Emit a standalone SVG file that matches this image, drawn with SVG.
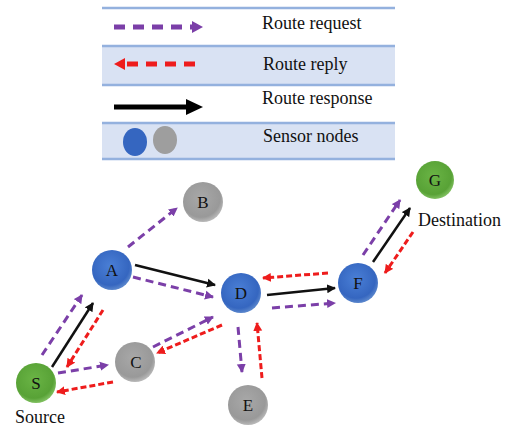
<svg xmlns="http://www.w3.org/2000/svg" width="506" height="426" viewBox="0 0 506 426">
<defs>
<radialGradient id="gBlue" cx="45%" cy="40%" r="60%"><stop offset="0" stop-color="#4a7fd6"/><stop offset="0.8" stop-color="#3566c0"/><stop offset="1" stop-color="#5a86cc"/></radialGradient>
<radialGradient id="gGray" cx="45%" cy="40%" r="60%"><stop offset="0" stop-color="#a8a8a8"/><stop offset="0.8" stop-color="#999999"/><stop offset="1" stop-color="#b8b8b8"/></radialGradient>
<radialGradient id="gGreen" cx="45%" cy="40%" r="60%"><stop offset="0" stop-color="#6ab445"/><stop offset="0.8" stop-color="#58a236"/><stop offset="1" stop-color="#80c060"/></radialGradient>
<marker id="mP" markerUnits="userSpaceOnUse" markerWidth="10" markerHeight="10" refX="8" refY="5" orient="auto"><path d="M0,0.5 L9,5 L0,9.5 Z" fill="#7b3fa8"/></marker>
<marker id="mR" markerUnits="userSpaceOnUse" markerWidth="10" markerHeight="10" refX="8" refY="5" orient="auto"><path d="M0,0.5 L9,5 L0,9.5 Z" fill="#ee1c1c"/></marker>
<marker id="mK" markerUnits="userSpaceOnUse" markerWidth="10" markerHeight="10" refX="8" refY="5" orient="auto"><path d="M0,0.5 L9,5 L0,9.5 Z" fill="#111111"/></marker>
</defs>
<style>
.t{font-family:"Liberation Serif","Times New Roman",serif;font-size:18px;fill:#111}
.nl{font-family:"Liberation Serif","Times New Roman",serif;font-size:17px;fill:#111;text-anchor:middle}
.band{fill:#d9e2f3}
.sep{stroke:#94b1de;stroke-width:2.5}
.req{stroke:#7b3fa8;stroke-width:3;stroke-dasharray:8,5;fill:none}
.rep{stroke:#ee1c1c;stroke-width:3;stroke-dasharray:6,3;fill:none}
.res{stroke:#111;stroke-width:2.5;fill:none}
.blue{fill:url(#gBlue)}
.gray{fill:url(#gGray)}
.green{fill:url(#gGreen)}
</style>
<g id="legend">
<rect class="band" x="102" y="46" width="293" height="39"/>
<rect class="band" x="102" y="123" width="293" height="36"/>
<line class="sep" x1="102" y1="8" x2="395" y2="8"/>
<line class="sep" x1="102" y1="46" x2="395" y2="46"/>
<line class="sep" x1="102" y1="85" x2="395" y2="85"/>
<line class="sep" x1="102" y1="123" x2="395" y2="123"/>
<line class="sep" x1="102" y1="159" x2="395" y2="159"/>
<line x1="114" y1="27" x2="192" y2="27" stroke="#7b3fa8" stroke-width="5" stroke-dasharray="11,8"/>
<path d="M192,21 L203,27 L192,33 Z" fill="#7b3fa8"/>
<line x1="127" y1="64" x2="202" y2="64" stroke="#ee1c1c" stroke-width="5" stroke-dasharray="11,8"/>
<path d="M125,58 L114,64 L125,70 Z" fill="#ee1c1c"/>
<line x1="114" y1="107" x2="190" y2="107" stroke="#000" stroke-width="5"/>
<path d="M186,99 L203,107 L186,115 Z" fill="#000"/>
<ellipse cx="135" cy="142" rx="12" ry="14" fill="#3566c0"/>
<ellipse cx="165" cy="140" rx="12" ry="14" fill="#9e9e9e"/>
<text class="t" x="262" y="29">Route request</text>
<text class="t" x="263" y="70">Route reply</text>
<text class="t" x="262" y="104">Route response</text>
<text class="t" x="263" y="142">Sensor nodes</text>
</g>
<g id="connectors">
<line class="req" x1="42" y1="355" x2="82" y2="295" marker-end="url(#mP)"/>
<line class="res" x1="52" y1="367" x2="93" y2="303" marker-end="url(#mK)"/>
<line class="rep" x1="103" y1="310" x2="67" y2="367" marker-end="url(#mR)"/>
<line class="req" x1="58" y1="373" x2="108" y2="365" marker-end="url(#mP)"/>
<line class="rep" x1="113" y1="382" x2="57" y2="392" marker-end="url(#mR)"/>
<line class="req" x1="128" y1="247" x2="177" y2="208" marker-end="url(#mP)"/>
<line class="res" x1="135" y1="265" x2="215" y2="285" marker-end="url(#mK)"/>
<line class="req" x1="133" y1="277" x2="213" y2="297" marker-end="url(#mP)"/>
<line class="req" x1="153" y1="347" x2="213" y2="317" marker-end="url(#mP)"/>
<line class="rep" x1="222" y1="325" x2="157" y2="353" marker-end="url(#mR)"/>
<line class="req" x1="238" y1="327" x2="242" y2="372" marker-end="url(#mP)"/>
<line class="rep" x1="262" y1="378" x2="257" y2="323" marker-end="url(#mR)"/>
<line class="res" x1="267" y1="295" x2="335" y2="288" marker-end="url(#mK)"/>
<line class="req" x1="272" y1="308" x2="335" y2="303" marker-end="url(#mP)"/>
<line class="rep" x1="328" y1="273" x2="263" y2="278" marker-end="url(#mR)"/>
<line class="res" x1="373" y1="262" x2="410" y2="208" marker-end="url(#mK)"/>
<line class="req" x1="363" y1="255" x2="400" y2="200" marker-end="url(#mP)"/>
<line class="rep" x1="413" y1="232" x2="385" y2="273" marker-end="url(#mR)"/>
</g>
<g id="node-B"><circle class="gray" cx="203" cy="202" r="20"/><text class="nl" x="203" y="208">B</text></g>
<g id="node-A"><circle class="blue" cx="112" cy="270" r="20"/><text class="nl" x="112" y="276">A</text></g>
<g id="node-D"><circle class="blue" cx="241" cy="293" r="20"/><text class="nl" x="241" y="299">D</text></g>
<g id="node-C"><circle class="gray" cx="135" cy="362" r="20"/><text class="nl" x="136" y="368">C</text></g>
<g id="node-S"><circle class="green" cx="36" cy="383" r="20"/><text class="nl" x="36" y="389">S</text><text class="t" x="15" y="423">Source</text></g>
<g id="node-E"><circle class="gray" cx="248" cy="405" r="20"/><text class="nl" x="248" y="411">E</text></g>
<g id="node-F"><circle class="blue" cx="358" cy="283" r="20"/><text class="nl" x="358" y="289">F</text></g>
<g id="node-G"><circle class="green" cx="435" cy="180" r="19"/><text class="nl" x="435" y="186">G</text><text class="t" x="418" y="226">Destination</text></g>
</svg>
